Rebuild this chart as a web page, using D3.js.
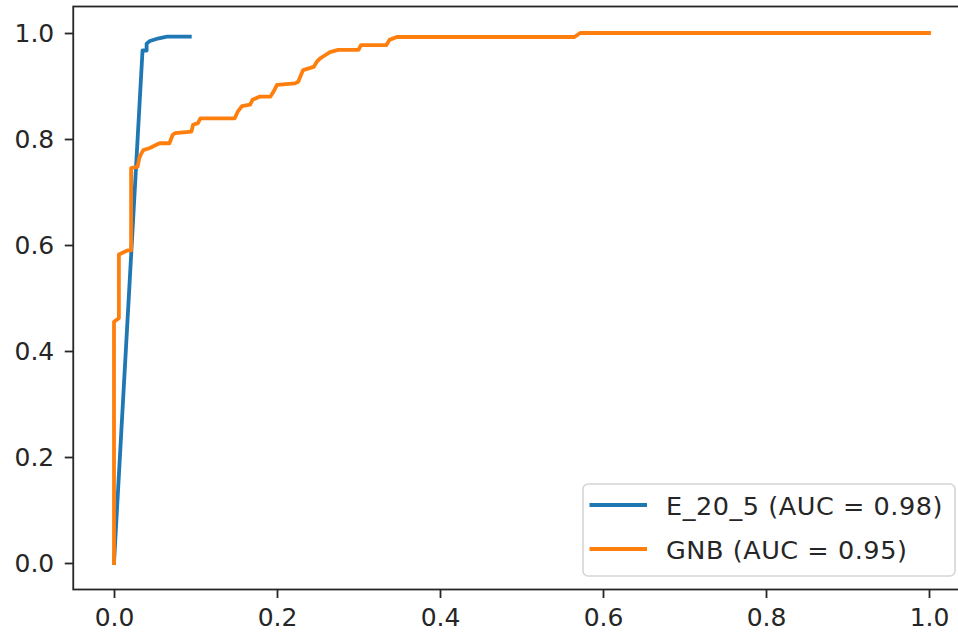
<!DOCTYPE html>
<html>
<head>
<meta charset="utf-8">
<script src="https://cdn.jsdelivr.net/npm/d3@7"></script>
<style>
  html, body { margin: 0; padding: 0; background: #fff; }
  svg { display: block; }
  text { font-family: "DejaVu Sans", sans-serif; }
</style>
</head>
<body>
<svg id="chart" width="958" height="634"></svg>
<script>
// ---- data ----
const seriesNames = ["E_20_5 (AUC = 0.98)", "GNB (AUC = 0.95)"];
const seriesColors = ["#1f77b4", "#ff7f0e"];

const e20FPR = [0, 0.035, 0.040, 0.040, 0.044, 0.055, 0.065, 0.093];
const e20TPR = [0, 0.967, 0.967, 0.980, 0.985, 0.990, 0.993, 0.993];

const gnbFPR = [0, 0, 0.006, 0.006, 0.017, 0.021, 0.021, 0.029, 0.031, 0.034,
                0.036, 0.044, 0.052, 0.056, 0.068, 0.072, 0.075, 0.095, 0.097, 0.103,
                0.106, 0.148, 0.152, 0.157, 0.167, 0.170, 0.179, 0.192, 0.197, 0.200,
                0.222, 0.226, 0.232, 0.245, 0.249, 0.253, 0.259, 0.265, 0.275, 0.300,
                0.303, 0.334, 0.338, 0.347, 0.565, 0.572, 1.0];
const gnbTPR = [0, 0.455, 0.462, 0.582, 0.590, 0.590, 0.745, 0.748, 0.764, 0.774,
                0.779, 0.783, 0.789, 0.792, 0.792, 0.808, 0.811, 0.814, 0.827, 0.830,
                0.839, 0.839, 0.852, 0.862, 0.865, 0.874, 0.880, 0.880, 0.893, 0.902,
                0.905, 0.908, 0.930, 0.936, 0.946, 0.952, 0.958, 0.964, 0.968, 0.968,
                0.977, 0.977, 0.987, 0.9925, 0.9925, 1.0, 1.0];

const xTicks = [0, 0.2, 0.4, 0.6, 0.8, 1.0];
const yTicks = [0, 0.2, 0.4, 0.6, 0.8, 1.0];

// ---- layout ----
const svg = d3.select("#chart");
const x = d3.scaleLinear().domain([-0.05, 1.05]).range([73.25, 969.75]);
const y = d3.scaleLinear().domain([-0.05, 1.05]).range([589.5, 6.5]);
const FONT = 25;
const INK = "#262626";

const series = [
  { name: seriesNames[0], color: seriesColors[0], pts: e20FPR.map((v, i) => [v, e20TPR[i]]) },
  { name: seriesNames[1], color: seriesColors[1], pts: gnbFPR.map((v, i) => [v, gnbTPR[i]]) }
];

const line = d3.line().x(d => x(d[0])).y(d => y(d[1]));

// lines
series.forEach(s => {
  svg.append("path")
    .attr("d", line(s.pts))
    .attr("fill", "none")
    .attr("stroke", s.color)
    .attr("stroke-width", 3.8)
    .attr("stroke-linejoin", "round")
    .attr("stroke-linecap", "square");
});

// spines
svg.append("rect")
  .attr("x", x(-0.05)).attr("y", y(1.05))
  .attr("width", x(1.05) - x(-0.05)).attr("height", y(-0.05) - y(1.05))
  .attr("fill", "none").attr("stroke", INK).attr("stroke-width", 1.8);

// axes
const xAxis = d3.axisBottom(x).tickValues(xTicks).tickFormat(d3.format(".1f"))
  .tickSize(8.5).tickPadding(10);
const yAxis = d3.axisLeft(y).tickValues(yTicks).tickFormat(d3.format(".1f"))
  .tickSize(8.5).tickPadding(10.5);

const gx = svg.append("g").attr("transform", `translate(0,${y(-0.05)})`).call(xAxis);
const gy = svg.append("g").attr("transform", `translate(${x(-0.05)},0)`).call(yAxis);
[gx, gy].forEach(g => {
  g.select(".domain").remove();
  g.selectAll(".tick line").attr("stroke", INK).attr("stroke-width", 1.8);
  g.selectAll(".tick text").attr("fill", INK)
    .style("font-family", "'DejaVu Sans', sans-serif").style("font-size", FONT + "px");
});

// legend
const lg = svg.append("g");
lg.append("rect")
  .attr("x", 583).attr("y", 484).attr("width", 372).attr("height", 92)
  .attr("rx", 5).attr("ry", 5)
  .attr("fill", "#ffffff").attr("fill-opacity", 0.8)
  .attr("stroke", "#d5d5d5").attr("stroke-width", 1.6);
series.forEach((s, i) => {
  const cy = 505 + i * 44;
  lg.append("line")
    .attr("x1", 589.5).attr("x2", 647)
    .attr("y1", cy).attr("y2", cy)
    .attr("stroke", s.color).attr("stroke-width", 3.8);
  lg.append("text")
    .attr("x", 666).attr("y", cy + 10)
    .attr("fill", INK)
    .style("font-size", "25.5px")
    .style("letter-spacing", "0.55px")
    .text(s.name);
});
</script>
</body>
</html>
